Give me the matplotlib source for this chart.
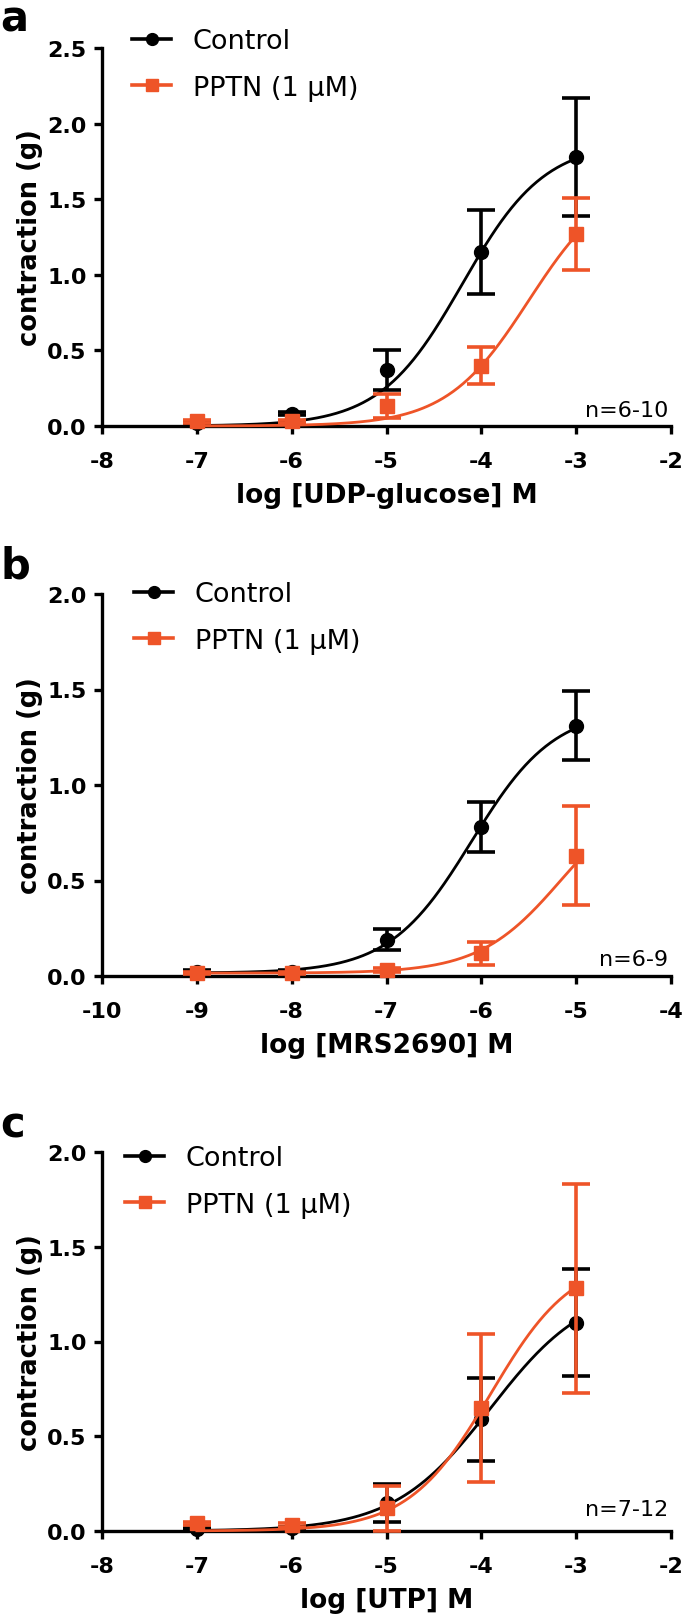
import numpy as np
import matplotlib
matplotlib.use("Agg")
import matplotlib.pyplot as plt
from matplotlib.lines import Line2D

plt.rcParams['font.family'] = ['DejaVu Sans']

BLACK = '#000000'
ORANGE = '#EE5428'

# ---------------- data ----------------
# panel a: UDP-glucose
x_a = [-7, -6, -5, -4, -3]
ctrl_a = [0.02, 0.08, 0.37, 1.15, 1.78]
ctrl_a_err = [0.01, 0.01, 0.13, 0.28, 0.39]
pptn_a = [0.03, 0.03, 0.13, 0.40, 1.27]
pptn_a_err = [0.01, 0.01, 0.08, 0.12, 0.24]
# fitted sigmoid params: bottom, top, logEC50, hill
fit_ctrl_a = [0.0, 1.88, -4.2, 1.0]
fit_pptn_a = [0.0, 1.66, -3.5, 1.0]

# panel b: MRS2690
x_b = [-9, -8, -7, -6, -5]
ctrl_b = [0.02, 0.02, 0.19, 0.78, 1.31]
ctrl_b_err = [0.01, 0.01, 0.055, 0.13, 0.18]
pptn_b = [0.015, 0.015, 0.03, 0.12, 0.63]
pptn_b_err = [0.005, 0.005, 0.01, 0.06, 0.26]
fit_ctrl_b = [0.015, 1.40, -6.1, 1.0]
fit_pptn_b = [0.015, 1.00, -5.15, 1.0]

# panel c: UTP
x_c = [-7, -6, -5, -4, -3]
ctrl_c = [0.01, 0.015, 0.15, 0.59, 1.10]
ctrl_c_err = [0.005, 0.005, 0.10, 0.22, 0.28]
pptn_c = [0.04, 0.03, 0.12, 0.65, 1.28]
pptn_c_err = [0.01, 0.01, 0.12, 0.39, 0.55]
fit_ctrl_c = [0.0, 1.30, -3.9, 0.85]
fit_pptn_c = [0.0, 1.45, -3.9, 1.0]

panels = [
    dict(letter='a', x=x_a, c=ctrl_a, ce=ctrl_a_err, p=pptn_a, pe=pptn_a_err,
         fc=fit_ctrl_a, fp=fit_pptn_a, xlim=(-8, -2), xticks=[-8, -7, -6, -5, -4, -3, -2],
         ylim=(0, 2.5), yticks=[0.0, 0.5, 1.0, 1.5, 2.0, 2.5],
         xlabel='log [UDP-glucose] M', n='n=6-10', ny=10,
         box=(102, 49, 671, 427), leg=(132, 65.5), lab=(0, -1)),
    dict(letter='b', x=x_b, c=ctrl_b, ce=ctrl_b_err, p=pptn_b, pe=pptn_b_err,
         fc=fit_ctrl_b, fp=fit_pptn_b, xlim=(-10, -4), xticks=[-10, -9, -8, -7, -6, -5, -4],
         ylim=(0, 2.0), yticks=[0.0, 0.5, 1.0, 1.5, 2.0],
         xlabel='log [MRS2690] M', n='n=6-9', ny=11,
         box=(102, 595, 671, 977), leg=(134, 618.5), lab=(0, 546)),
    dict(letter='c', x=x_c, c=ctrl_c, ce=ctrl_c_err, p=pptn_c, pe=pptn_c_err,
         fc=fit_ctrl_c, fp=fit_pptn_c, xlim=(-8, -2), xticks=[-8, -7, -6, -5, -4, -3, -2],
         ylim=(0, 2.0), yticks=[0.0, 0.5, 1.0, 1.5, 2.0],
         xlabel='log [UTP] M', n='n=7-12', ny=16,
         box=(102, 1153, 671, 1532), leg=(125, 1182.5), lab=(0, 1104)),
]

W, H = 684, 1615
fig = plt.figure(figsize=(W / 100, H / 100), dpi=100)


def sigmoid(x, p):
    b, t, c, h = p
    return b + (t - b) / (1 + 10 ** ((c - x) * h))


LW = 2.4
for P in panels:
    l, t, r, b = P['box']
    ax = fig.add_axes([l / W, 1 - b / H, (r - l) / W, (b - t) / H])
    xs = np.linspace(min(P['x']), max(P['x']), 300)
    # control
    ax.plot(xs, sigmoid(xs, P['fc']), color=BLACK, lw=2.0, zorder=2, clip_on=False)
    ax.errorbar(P['x'], P['c'], yerr=P['ce'], fmt='o', color=BLACK, ms=10,
                elinewidth=2.6, capsize=10, capthick=2.6, zorder=3, clip_on=False)
    # pptn
    ax.plot(xs, sigmoid(xs, P['fp']), color=ORANGE, lw=2.0, zorder=4, clip_on=False)
    ax.errorbar(P['x'], P['p'], yerr=P['pe'], fmt='s', color=ORANGE, ms=9.5,
                elinewidth=2.6, capsize=10, capthick=2.6, zorder=5, clip_on=False)

    ax.set_xlim(*P['xlim'])
    ax.set_ylim(*P['ylim'])
    ax.set_xticks(P['xticks'])
    ax.set_xticklabels([str(v) for v in P['xticks']])
    ax.set_yticks(P['yticks'])
    ax.set_yticklabels([f'{v:.1f}' for v in P['yticks']])
    for s in ['top', 'right']:
        ax.spines[s].set_visible(False)
    for s in ['left', 'bottom']:
        ax.spines[s].set_linewidth(LW)
    ax.tick_params(axis='both', width=LW, length=6, labelsize=16)
    ax.tick_params(axis='x', pad=12)
    ax.tick_params(axis='y', pad=5)
    for lab in ax.get_xticklabels() + ax.get_yticklabels():
        lab.set_fontweight('bold')
    ax.set_xlabel(P['xlabel'], fontsize=19, fontweight='bold', labelpad=8)
    ax.set_ylabel('contraction (g)', fontsize=18.5, fontweight='bold', labelpad=3)
    ax.text(0.995, P['ny'] / (b - t), P['n'], transform=ax.transAxes, ha='right',
            va='baseline', fontsize=16)

    handles = [Line2D([], [], color=BLACK, marker='o', ms=8.5, lw=2.6),
               Line2D([], [], color=ORANGE, marker='s', ms=8.5, lw=2.6)]
    lx, ly = P['leg']
    ax.legend(handles, ['Control', 'PPTN (1 µM)'], loc='center left',
              bbox_to_anchor=(lx / W, 1 - ly / H), bbox_transform=fig.transFigure,
              frameon=False, fontsize=19.5, handlelength=1.45, handletextpad=0.8,
              labelspacing=0.74, borderpad=0, borderaxespad=0)

    fig.text(P['lab'][0] / W, 1 - P['lab'][1] / H, P['letter'], fontsize=30,
             fontweight='bold', ha='left', va='top')

fig.savefig('out.png', dpi=100)
